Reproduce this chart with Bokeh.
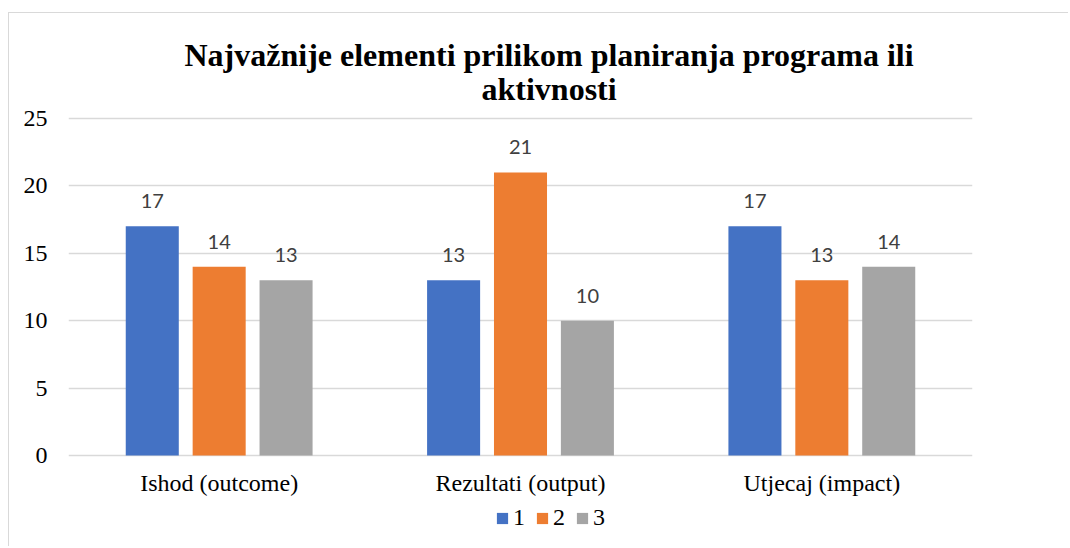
from bokeh.plotting import figure
from bokeh.models import (ColumnDataSource, FactorRange, Range1d, LabelSet, Title,
                          Legend, LegendItem, FixedTicker)
from bokeh.transform import dodge
from bokeh.core.properties import value
from bokeh.embed import file_html
from bokeh.resources import INLINE

# ---- data ----
categories = ["Ishod (outcome)", "Rezultati (output)", "Utjecaj (impact)"]
series_names = ["1", "2", "3"]
series_1 = [17, 13, 17]
series_2 = [14, 21, 13]
series_3 = [13, 10, 14]
colors = ["#4472C4", "#ED7D31", "#A5A5A5"]
title_lines = ["Najvažnije elementi prilikom planiranja programa ili", "aktivnosti"]
y_ticks = [0, 5, 10, 15, 20, 25]

series = [series_1, series_2, series_3]
offsets = [-0.222, 0.0, 0.222]
bar_width = 0.176

data = dict(cat=categories)
for i, s in enumerate(series):
    data[f"s{i}"] = s
    data[f"l{i}"] = [str(v) for v in s]
src = ColumnDataSource(data)

W, H = 1060, 534
FRAME_H = 431
LEFT = 59
p = figure(x_range=FactorRange(*categories), y_range=Range1d(-6.83, 25.15),
           width=W, height=H, output_backend="svg", toolbar_location=None,
           min_border_left=LEFT, min_border_right=W - LEFT - 904, min_border_top=103,
           min_border_bottom=H - 103 - FRAME_H)
p.margin = (12, 0, 0, 8)
p.styles = {"border-left": "1px solid #d9d9d9", "border-top": "1px solid #d9d9d9"}
p.outline_line_color = None
p.background_fill_color = "white"
p.border_fill_color = "white"

renderers = []
for i, s in enumerate(series):
    r = p.vbar(x=dodge("cat", offsets[i], range=p.x_range), top=f"s{i}", width=bar_width,
               source=src, fill_color=colors[i], line_color=None)
    renderers.append(r)
    p.add_layout(LabelSet(x=dodge("cat", offsets[i], range=p.x_range), y=f"s{i}",
                          text=f"l{i}", source=src, text_align="center",
                          text_baseline="alphabetic", y_offset=18,
                          text_font=value("Lato"), text_font_size=value("20px"),
                          text_color=value("#404040")))

# axes
p.yaxis.ticker = FixedTicker(ticks=y_ticks)
p.ygrid.ticker = FixedTicker(ticks=y_ticks)
p.ygrid.grid_line_color = "#d9d9d9"
p.ygrid.grid_line_width = 1.5
p.xgrid.grid_line_color = None
for ax in (p.xaxis, p.yaxis):
    ax.axis_line_color = None
    ax.major_tick_line_color = None
    ax.minor_tick_line_color = None
    ax.major_tick_out = 0
    ax.major_tick_in = 0
    ax.major_label_text_font = "Liberation Serif"
    ax.major_label_text_font_size = "24px"
    ax.major_label_text_color = "#000000"
p.yaxis.major_label_standoff = 21
p.xaxis.major_label_standoff = 15
p.xaxis.fixed_location = 0

# titles: nearest to frame first (spacer, line 2, line 1)
title_style = dict(text_font="Liberation Serif", text_font_style="bold",
                   text_font_size="32px", text_color="#000000", align="left",
                   vertical_align="bottom")
p.add_layout(Title(text=" ", text_font_size="2px", standoff=10), "above")
p.add_layout(Title(text=title_lines[1], offset=413, standoff=-8, **title_style), "above")
p.add_layout(Title(text=title_lines[0], offset=116, standoff=0, **title_style), "above")

legend = Legend(items=[LegendItem(label=series_names[i], renderers=[renderers[i]]) for i in range(3)],
                orientation="horizontal", location=(427, 16))
legend.label_text_font = "Liberation Serif"
legend.label_text_font_size = "24px"
legend.label_text_color = "#000000"
legend.glyph_width = 14
legend.glyph_height = 14
legend.label_standoff = 4
legend.label_width = 0
legend.spacing = 10
legend.padding = 0
legend.margin = 0
legend.border_line_color = None
legend.background_fill_alpha = 0
p.add_layout(legend)

open("out.html", "w").write(file_html(p, INLINE))
